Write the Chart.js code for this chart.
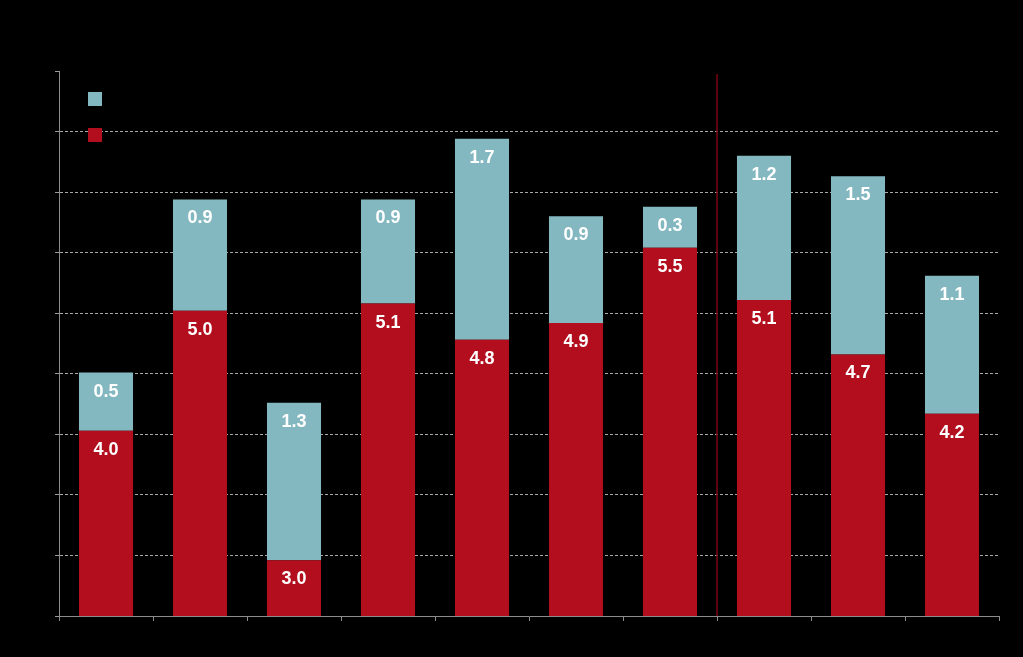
<!DOCTYPE html>
<html>
<head>
<meta charset="utf-8">
<script src="https://cdn.jsdelivr.net/npm/chart.js@4/dist/chart.umd.min.js"></script>
<style>
  html, body { margin: 0; padding: 0; background: #000; }
  canvas { display: block; }
</style>
</head>
<body>
<canvas id="c" width="1023" height="657"></canvas>
<script>
const categories = ['1', '2', '3', '4', '5', '6', '7', '8', '9', '10'];
const baseValues = [4.03, 5.02, 2.96, 5.08, 4.78, 4.92, 5.54, 5.11, 4.66, 4.17];
const topValues  = [0.48, 0.92, 1.30, 0.86, 1.66, 0.88, 0.34, 1.19, 1.47, 1.14];
const yTicks = { min: 2.5, max: 7.0, step: 0.5 };
const dividerAfterIndex = 6;

const RED = '#B20E1E';
const BLUE = '#84B8C0';

const bgPlugin = {
  id: 'bg',
  beforeDraw(chart) {
    const ctx = chart.ctx;
    ctx.save();
    ctx.fillStyle = '#000';
    ctx.fillRect(0, 0, chart.width, chart.height);
    ctx.restore();
  }
};

const extrasPlugin = {
  id: 'extras',
  afterDatasetsDraw(chart) {
    const ctx = chart.ctx;
    const area = chart.chartArea;
    const xs = chart.scales.x;
    // divider line
    const xd = (xs.getPixelForValue(dividerAfterIndex) + xs.getPixelForValue(dividerAfterIndex + 1)) / 2;
    ctx.save();
    ctx.strokeStyle = '#7A0612';
    ctx.lineWidth = 1.5;
    ctx.beginPath();
    ctx.moveTo(xd, area.top + 3);
    ctx.lineTo(xd, area.bottom);
    ctx.stroke();
    // data labels
    ctx.fillStyle = '#fff';
    ctx.font = 'bold 18px "Liberation Sans", Arial, sans-serif';
    ctx.textAlign = 'center';
    ctx.textBaseline = 'middle';
    chart.data.datasets.forEach((ds, di) => {
      const meta = chart.getDatasetMeta(di);
      meta.data.forEach((bar, i) => {
        ctx.fillText(ds.data[i].toFixed(1), bar.x, bar.y + 19);
      });
    });
    // legend squares
    const items = [BLUE, RED];
    items.forEach((col, i) => {
      ctx.fillStyle = col;
      ctx.fillRect(88, 92 + i * 36, 14, 14);
    });
    ctx.restore();
  }
};

new Chart(document.getElementById('c'), {
  type: 'bar',
  data: {
    labels: categories,
    datasets: [
      { label: 'base', data: baseValues, backgroundColor: RED, borderWidth: 0 },
      { label: 'top', data: topValues, backgroundColor: BLUE, borderWidth: 0 }
    ]
  },
  options: {
    responsive: false,
    animation: false,
    layout: { padding: { left: 55, right: 24, top: 71, bottom: 36 } },
    datasets: { bar: { categoryPercentage: 1, barPercentage: 0.575 } },
    plugins: { legend: { display: false }, tooltip: { enabled: false } },
    scales: {
      x: {
        stacked: true,
        ticks: { display: false },
        grid: {
          display: true,
          offset: true,
          drawOnChartArea: false,
          drawTicks: true,
          tickLength: 5,
          tickColor: '#8c8c8c',
          color: '#8c8c8c'
        },
        border: { display: true, color: '#8c8c8c', width: 1 }
      },
      y: {
        stacked: true,
        min: yTicks.min,
        max: yTicks.max,
        ticks: { display: false, stepSize: yTicks.step },
        grid: {
          drawOnChartArea: true,
          drawTicks: true,
          tickLength: 4,
          tickColor: '#9a9a9a',
          color: (c) => (c.tick && (c.tick.value === yTicks.max || c.tick.value === yTicks.min)) ? 'rgba(0,0,0,0)' : '#a8a8a8',
          lineWidth: 1
        },
        border: { display: true, color: '#8c8c8c', width: 1, dash: [3, 2] }
      }
    }
  },
  plugins: [bgPlugin, extrasPlugin]
});
</script>
</body>
</html>
